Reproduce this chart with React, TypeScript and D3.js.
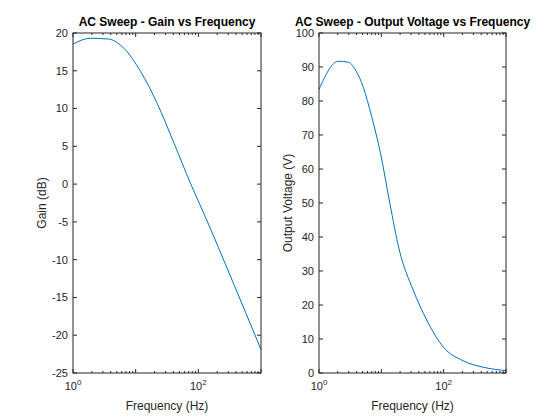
import * as d3 from 'd3';

const gainFreq = [1, 1.9, 3.7, 6.5, 12, 22, 41, 75, 132, 330, 1000];
const gainDb = [18.55, 19.3, 19.2, 17.97, 14.9, 10.7, 5.4, 0.1, -4.5, -12.3, -21.9];
const voltFreq = [1, 2.04, 2.95, 4.0, 5.1, 7.0, 9.7, 13.7, 19.4, 32.4, 53.4, 98, 205, 430, 1000];
const voltV = [83.4, 91.7, 91.4, 88.6, 84.2, 75.4, 64.6, 49.9, 36.2, 24.4, 15.6, 7.7, 3.6, 1.7, 0.7];
const gainTicks = [-25, -20, -15, -10, -5, 0, 5, 10, 15, 20];
const voltTicks = [0, 10, 20, 30, 40, 50, 60, 70, 80, 90, 100];
const xMajor = [1, 100];

const font = 'Liberation Sans, Arial, Helvetica, sans-serif';
const ink = '#262626';

function Panel({ left, right, freq, vals, ticks, domain, title, ylabel }: {
  left: number; right: number; freq: number[]; vals: number[]; ticks: number[];
  domain: [number, number]; title: string; ylabel: string;
}) {
  const top = 33, bottom = 373;
  const x = d3.scaleLog().domain([1, 1000]).range([left, right]);
  const y = d3.scaleLinear().domain(domain).range([bottom, top]);
  const pts = freq.map((f, i) => [x(f), y(vals[i])] as [number, number]);
  const path = d3.line().curve(d3.curveMonotoneX)(pts) ?? '';
  const minor: number[] = [];
  for (let d = 1; d < 1000; d *= 10) for (let k = 2; k <= 9; k++) minor.push(d * k);
  const cx = (left + right) / 2;
  return (
    <g fontFamily={font}>
      <rect x={left} y={top} width={right - left} height={bottom - top} fill="#fff" />
      <path d={path} fill="none" stroke="#0072BD" strokeWidth={1} />
      <rect x={left} y={top} width={right - left} height={bottom - top} fill="none" stroke={ink} strokeWidth={1} />
      {ticks.map(t => (
        <g key={t}>
          <line x1={left} x2={left + 4} y1={y(t)} y2={y(t)} stroke={ink} />
          <line x1={right} x2={right - 4} y1={y(t)} y2={y(t)} stroke={ink} />
          <text x={left - 5} y={y(t)} dy="0.35em" textAnchor="end" fontSize={11} fill={ink}>{t}</text>
        </g>
      ))}
      {[1, 10, 100, 1000].map(t => (
        <g key={t}>
          <line x1={x(t)} x2={x(t)} y1={bottom} y2={bottom - 4} stroke={ink} />
          <line x1={x(t)} x2={x(t)} y1={top} y2={top + 4} stroke={ink} />
        </g>
      ))}
      {minor.map(t => (
        <g key={t}>
          <line x1={x(t)} x2={x(t)} y1={bottom} y2={bottom - 2} stroke={ink} />
          <line x1={x(t)} x2={x(t)} y1={top} y2={top + 2} stroke={ink} />
        </g>
      ))}
      {xMajor.map(t => (
        <text key={t} x={x(t)} y={bottom + 17} textAnchor="middle" fontSize={11} fill={ink}>
          10<tspan dy={-5} fontSize={8}>{Math.round(Math.log10(t))}</tspan>
        </text>
      ))}
      <text x={cx} y={bottom + 37} textAnchor="middle" fontSize={12} fill={ink}>Frequency (Hz)</text>
      <text transform={`translate(${left - 27},${(top + bottom) / 2}) rotate(-90)`} textAnchor="middle" fontSize={12} fill={ink}>{ylabel}</text>
      <text x={cx} y={top - 7} textAnchor="middle" fontSize={12} fontWeight="bold" fill="#000">{title}</text>
    </g>
  );
}

export default function App() {
  return (
    <div style={{ position: 'fixed', left: 0, top: 0 }}>
      <svg width={560} height={420} style={{ display: 'block', background: '#fff' }}>
        <Panel left={73} right={261} freq={gainFreq} vals={gainDb} ticks={gainTicks} domain={[-25, 20]}
          title="AC Sweep - Gain vs Frequency" ylabel="Gain (dB)" />
        <Panel left={319} right={506} freq={voltFreq} vals={voltV} ticks={voltTicks} domain={[0, 100]}
          title="AC Sweep - Output Voltage vs Frequency" ylabel="Output Voltage (V)" />
      </svg>
    </div>
  );
}
